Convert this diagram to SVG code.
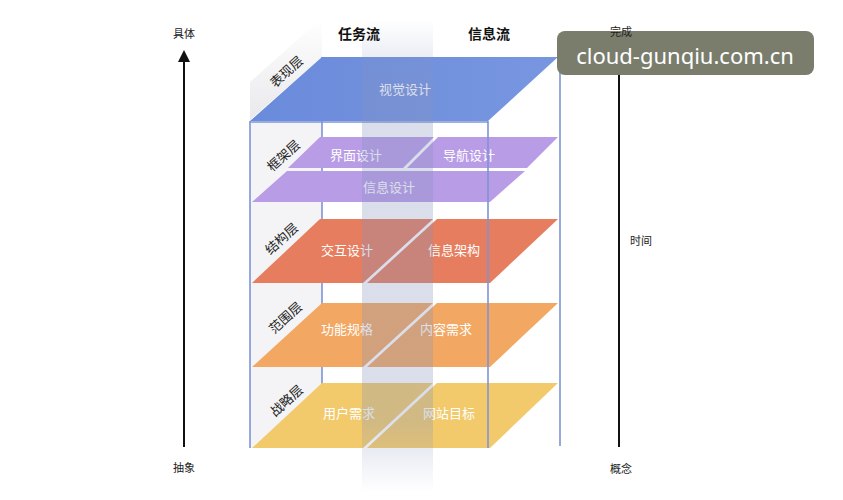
<svg xmlns="http://www.w3.org/2000/svg" width="843" height="500" viewBox="0 0 843 500">
<defs>
<style>
.lbl{font-family:"Noto Sans CJK SC","Noto Sans",sans-serif;font-size:13px;fill:#ffffff;text-anchor:middle;dominant-baseline:central}
.side{font-family:"Noto Sans CJK SC","Noto Sans",sans-serif;font-size:13px;fill:#222;text-anchor:middle;dominant-baseline:central}
.hd{font-family:"Noto Sans CJK SC","Noto Sans",sans-serif;font-size:14px;font-weight:bold;fill:#111;text-anchor:middle;dominant-baseline:central}
.ax{font-family:"Noto Sans CJK SC","Noto Sans",sans-serif;font-size:11px;fill:#222;text-anchor:middle;dominant-baseline:central}
.edge{stroke:#7d93d8;stroke-width:1.6;fill:none}
</style>
<linearGradient id="stripe" x1="0" y1="0" x2="0" y2="1">
<stop offset="0" stop-color="#8592bd" stop-opacity="0"/>
<stop offset="0.15" stop-color="#8592bd" stop-opacity="0.3"/>
<stop offset="0.85" stop-color="#8592bd" stop-opacity="0.3"/>
<stop offset="1" stop-color="#8592bd" stop-opacity="0"/>
</linearGradient>
<linearGradient id="sidewall" x1="0" y1="1" x2="0" y2="0">
<stop offset="0" stop-color="#e9e9ec"/>
<stop offset="1" stop-color="#ffffff"/>
</linearGradient>
<linearGradient id="topface" x1="0" y1="0" x2="1" y2="0">
<stop offset="0" stop-color="#6a8bdb"/>
<stop offset="1" stop-color="#7896e0"/>
</linearGradient>
<marker id="arr" viewBox="0 0 10 10" refX="5" refY="5" markerWidth="12" markerHeight="12" markerUnits="userSpaceOnUse" orient="auto">
<path d="M0,0 L10,5 L0,10 Z" fill="#111"/>
</marker>
</defs>
<rect width="843" height="500" fill="#ffffff"/>

<g id="box-back">
<polygon points="250,82 322,18 322,57 250,120" fill="url(#sidewall)"/>
<rect x="250" y="120" width="72" height="328" fill="#f4f4f6"/>
<line class="edge" x1="322" y1="57" x2="322" y2="448"/>
<line class="edge" x1="560" y1="57" x2="560" y2="446"/>
</g>

<g id="layer-presentation">
<polygon points="322,57 558,57 488,121 250,121" fill="url(#topface)"/>
<text class="lbl" x="405" y="88">视觉设计</text>
<text class="side" x="286" y="71" transform="rotate(-42 286 71)">表现层</text>
</g>

<g id="layer-skeleton">
<polygon points="320,137 434,137 403,168 288,168" fill="#b99ce6"/>
<polygon points="438,137 558,137 527,168 407,168" fill="#b99ce6"/>
<polygon points="287,171 525,171 490,202 252,202" fill="#b99ce6"/>
<text class="lbl" x="356" y="154">界面设计</text>
<text class="lbl" x="469" y="154">导航设计</text>
<text class="lbl" x="389" y="186">信息设计</text>
<text class="side" x="283" y="155" transform="rotate(-42 283 155)">框架层</text>
</g>

<g id="layer-structure">
<polygon points="320,219 433,219 363,283 252,283" fill="#e57d5e"/>
<polygon points="437,219 558,219 490,283 367,283" fill="#e57d5e"/>
<text class="lbl" x="347" y="249">交互设计</text>
<text class="lbl" x="454" y="249">信息架构</text>
<text class="side" x="281" y="238" transform="rotate(-42 281 238)">结构层</text>
</g>

<g id="layer-scope">
<polygon points="322,303 433,303 363,367 252,367" fill="#f2a862"/>
<polygon points="437,303 558,303 490,367 367,367" fill="#f2a862"/>
<text class="lbl" x="347" y="328">功能规格</text>
<text class="lbl" x="446" y="328">内容需求</text>
<text class="side" x="285" y="317" transform="rotate(-42 285 317)">范围层</text>
</g>

<g id="layer-strategy">
<polygon points="322,383 433,383 363,448 252,448" fill="#f2ca6b"/>
<polygon points="437,383 558,383 490,448 367,448" fill="#f2ca6b"/>
<text class="lbl" x="349" y="412">用户需求</text>
<text class="lbl" x="449" y="412">网站目标</text>
<text class="side" x="286" y="400" transform="rotate(-42 286 400)">战略层</text>
</g>

<g id="box-front">
<line class="edge" x1="250" y1="121" x2="250" y2="448"/>
<line class="edge" x1="488" y1="121" x2="488" y2="448"/>
<line class="edge" x1="250" y1="122" x2="488" y2="122"/>
</g>

<g id="flow-stripe">
<rect x="362" y="20" width="71" height="472" fill="url(#stripe)"/>
</g>

<g id="headers">
<text class="hd" x="359" y="33">任务流</text>
<text class="hd" x="489" y="33">信息流</text>
</g>

<g id="connectors">
<line x1="184" y1="447" x2="184" y2="56" stroke="#111" stroke-width="2" marker-end="url(#arr)"/>
<line x1="619" y1="447" x2="619" y2="66" stroke="#111" stroke-width="2" marker-end="url(#arr)"/>
</g>

<g id="axis-left">
<text class="ax" x="184" y="33">具体</text>
<text class="ax" x="184" y="467">抽象</text>
</g>

<g id="watermark">
<rect x="557" y="31" width="257" height="44" rx="8" fill="#7a7d6c"/>
<text x="685" y="55" font-family="'Noto Sans','Open Sans',sans-serif" font-size="22" fill="#ffffff" text-anchor="middle" dominant-baseline="central">cloud-gunqiu.com.cn</text>
</g>

<g id="axis-right">
<text class="ax" x="621" y="31">完成</text>
<text class="ax" x="641" y="240">时间</text>
<text class="ax" x="621" y="468">概念</text>
</g>
</svg>
